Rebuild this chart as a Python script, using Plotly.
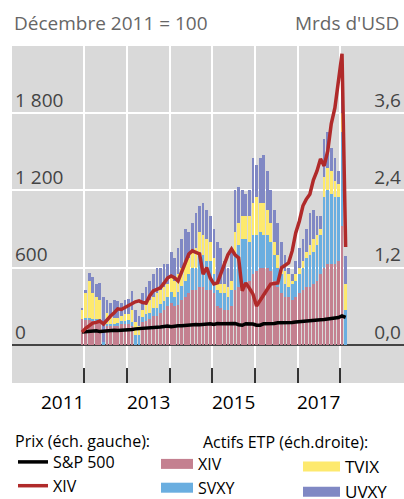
import pandas as pd
import plotly.graph_objects as go

# Monthly dates, Dec 2011 .. Feb 2018
months = (pd.date_range("2011-12-01", periods=75, freq="MS") + pd.Timedelta(days=14)).strftime("%Y-%m-%d").tolist()

# Prices (left scale, Dec 2011 = 100)
sp500 = [100, 104, 109, 112, 111, 104, 108, 110, 112, 115, 112, 113, 113,
         119, 120, 125, 127, 130, 128, 134, 130, 134, 140, 144, 147,
         142, 148, 149, 150, 153, 156, 154, 159, 157, 161, 164, 164,
         159, 167, 164, 166, 168, 164, 167, 157, 153, 165, 165, 163,
         154, 154, 164, 164, 167, 167, 173, 173, 172, 169, 175, 178,
         181, 188, 188, 190, 192, 193, 196, 197, 200, 205, 211, 213,
         225, 215]
xiv_price = [100, 130, 150, 170, 175, 186, 163, 195, 225, 250, 280, 275, 290,
             300, 318, 335, 342, 330, 326, 380, 420, 430, 443, 480, 520,
             535, 520, 497, 570, 640, 706, 730, 720, 706, 550, 600, 520,
             473, 482, 560, 628, 700, 745, 700, 676, 420, 482, 440, 396,
             303, 350, 396, 430, 473, 480, 482, 598, 615, 637, 730, 870,
             960, 1080, 1130, 1170, 1280, 1350, 1444, 1390, 1506, 1716, 1840, 2050,
             2260, 760]

# ETP assets (right scale, USD bn)
a_xiv = [.40, .40, .40, .38, .38, .38, .00, .30, .30, .30, .30, .32, .33,
         .33, .30, .00, .00, .35, .38, .40, .45, .45, .50, .55, .60,
         .65, .60, .62, .70, .75, .80, .85, .85, .90, .90, .85, .85,
         .80, .60, .57, .55, .55, .60, .85, .90, .95, .95, 1.00, 1.10,
         1.15, 1.20, 1.20, 1.20, 1.15, 1.00, .90, .80, .75, .75, .70, .75,
         .80, .85, .90, .90, .95, 1.00, 1.10, 1.20, 1.25, 1.25, 1.25, 1.30,
         1.85, .00]
a_svxy = [.00, .02, .02, .02, .02, .03, .05, .02, .03, .03, .04, .05, .05,
          .06, .06, .15, .15, .08, .10, .10, .12, .12, .13, .13, .15,
          .18, .15, .20, .22, .25, .30, .35, .35, .55, .50, .45, .45,
          .30, .25, .23, .25, .20, .25, .55, .65, .70, .70, .60, .60,
          .55, .55, .50, .50, .45, .40, .30, .30, .20, .15, .25, .25,
          .30, .35, .45, .50, .50, .55, .60, 1.10, 1.15, 1.10, 1.05, 1.00,
          1.45, .55]
a_tvix = [.15, .38, .58, .40, .35, .29, .00, .18, .12, .09, .08, .08, .10,
          .09, .19, .20, .15, .12, .14, .20, .18, .23, .22, .22, .20,
          .22, .25, .28, .28, .30, .25, .25, .30, .30, .30, .35, .30,
          .25, .15, .15, .15, .15, .15, .35, .35, .35, .35, .40, .50,
          .60, .45, .50, .40, .30, .20, .20, .10, .20, .20, .05, .10,
          .10, .10, .10, .15, .20, .15, .10, .30, .35, .35, .25, .20,
          .30, .39]
a_uvxy = [.02, .05, .12, .25, .20, .26, .70, .20, .20, .28, .26, .20, .22,
          .24, .29, .20, .15, .25, .28, .30, .35, .40, .35, .35, .30,
          .40, .35, .40, .45, .50, .40, .45, .55, .40, .50, .45, .40,
          .45, .60, .55, .35, .30, .45, .65, .55, .40, .35, .40, .70,
          .50, .70, .75, .60, .50, .50, .50, .40, .25, .10, .10, .20,
          .30, .35, .35, .50, .45, .30, .20, .60, .55, .35, .35, .20,
          .50, .44]

left_ticks = [0, 600, 1200, 1800]
left_text = ["0", "600", "1 200", "1 800"]
right_ticks = [0, 1.2, 2.4, 3.6]
right_text = ["0,0", "1,2", "2,4", "3,6"]
year_lines = ["2012-01-01", "2013-01-01", "2014-01-01", "2015-01-01",
              "2016-01-01", "2017-01-01", "2018-01-01"]
year_label_pos = ["2011-07-02", "2013-07-02", "2015-07-02", "2017-07-02"]
year_labels = ["2011", "2013", "2015", "2017"]

C_XIV_A = "#c48090"
C_SVXY = "#6aaee0"
C_TVIX = "#fde96e"
C_UVXY = "#8088c4"
C_SP = "#000000"
C_XIV_P = "#b02a2a"

FONT = "Open Sans"
W, H = 404, 499


def px(x):
    return x / W


def py(y):
    return (H - y) / H


fig = go.Figure()
for name, vals, col in [("XIV", a_xiv, C_XIV_A), ("SVXY", a_svxy, C_SVXY),
                        ("TVIX", a_tvix, C_TVIX), ("UVXY", a_uvxy, C_UVXY)]:
    fig.add_trace(go.Bar(x=months, y=vals, marker=dict(color=col, line=dict(width=0)),
                         name=name, showlegend=False, yaxis="y"))

fig.add_trace(go.Scatter(x=months, y=sp500, mode="lines", line=dict(color=C_SP, width=3.5),
                         name="S&P 500", yaxis="y2", legend="legend", legendgroup="a"))
fig.add_trace(go.Scatter(x=months, y=xiv_price, mode="lines", line=dict(color=C_XIV_P, width=3.5),
                         name="XIV", yaxis="y2", legend="legend", legendgroup="b"))

# legend proxies for the asset series
for name, col, lg, grp in [("XIV", C_XIV_A, "legend2", "c"), ("SVXY", C_SVXY, "legend2", "d"),
                           ("TVIX", C_TVIX, "legend3", "e"), ("UVXY", C_UVXY, "legend3", "f")]:
    fig.add_trace(go.Scatter(x=[None], y=[None], mode="lines", line=dict(color=col, width=13),
                             name=name, yaxis="y2", legend=lg, legendgroup=grp))

annotations = [
    dict(text="Décembre 2011 = 100", xref="paper", yref="paper", x=px(12), y=py(23),
         xanchor="left", yanchor="middle", showarrow=False,
         font=dict(size=19, color="#666")),
    dict(text="Mrds d'USD", xref="paper", yref="paper", x=px(401), y=py(23),
         xanchor="right", yanchor="middle", showarrow=False,
         font=dict(size=19, color="#666")),
    dict(text="Prix (éch. gauche):", xref="paper", yref="paper",
         x=px(13), y=py(441),
         xanchor="left", yanchor="middle", showarrow=False,
         font=dict(size=16, color="#000")),
    dict(text="Actifs ETP (éch.droite):", xref="paper", yref="paper",
         x=px(201), y=py(442),
         xanchor="left", yanchor="middle", showarrow=False,
         font=dict(size=16, color="#000")),
]
for pos, lab in zip(year_label_pos, year_labels):
    annotations.append(dict(text=lab, xref="x", yref="paper", x=pos, y=py(402),
                            xanchor="center", yanchor="middle", showarrow=False,
                            font=dict(size=19, color="#000")))

fig.update_layout(
    width=W, height=H,
    margin=dict(l=0, r=0, t=0, b=0, autoexpand=False),
    paper_bgcolor="white", plot_bgcolor="#d9d9d9",
    font=dict(family=FONT, size=19, color="#000"),
    barmode="stack", bargap=0.18,
    xaxis=dict(type="date", range=["2010-04-25", "2019-06-29"], domain=[px(12), 1],
               showticklabels=False, ticks="", showgrid=False, zeroline=False, showline=False,
               minor=dict(tickmode="array", tickvals=year_lines, ticks="inside", ticklen=15,
                          tickcolor="#333", tickwidth=2, showgrid=True,
                          gridcolor="white", gridwidth=1.5)),
    yaxis=dict(side="right", range=[-0.59, 4.64], domain=[py(383), py(46)],
               tickmode="array", tickvals=right_ticks,
               ticktext=right_text, ticklabelposition="inside", ticklabelshift=-13,
               showgrid=True, gridcolor="white", gridwidth=1.5,
               zeroline=True, zerolinecolor="#444", zerolinewidth=2, ticks=""),
    yaxis2=dict(side="left", overlaying="y", range=[-295, 2320], tickmode="array",
                tickvals=left_ticks, ticktext=left_text, ticklabelposition="inside",
                ticklabelshift=-13, showgrid=False, zeroline=False, ticks=""),
    legend=dict(x=px(13), xanchor="left", y=py(445), yanchor="top",
                font=dict(size=16), bgcolor="rgba(0,0,0,0)", tracegroupgap=5,
                traceorder="normal"),
    legend2=dict(x=px(156), xanchor="left", y=py(447), yanchor="top",
                 font=dict(size=16), bgcolor="rgba(0,0,0,0)", tracegroupgap=6,
                 traceorder="normal", itemwidth=32),
    legend3=dict(x=px(298), xanchor="left", y=py(449), yanchor="top",
                 font=dict(size=17), bgcolor="rgba(0,0,0,0)", tracegroupgap=0,
                 traceorder="normal", itemwidth=37),
    annotations=annotations,
)

fig.write_html("out.html", config={"displayModeBar": False},
               post_script="document.body.style.margin='0px';")
